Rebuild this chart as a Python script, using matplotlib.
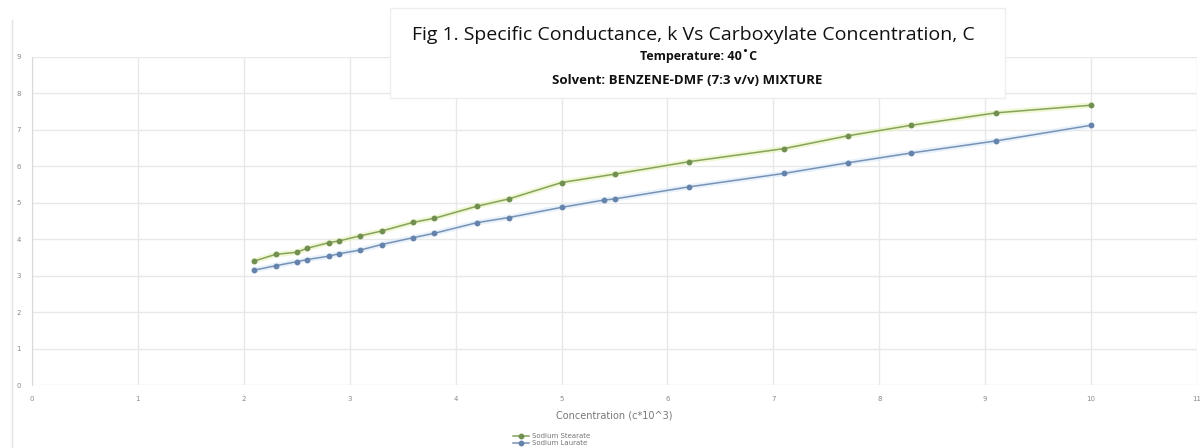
import matplotlib
matplotlib.use("Agg")
import matplotlib.pyplot as plt
from matplotlib.patches import Rectangle

# Data
conc_green = [2.1, 2.3, 2.5, 2.6, 2.8, 2.9, 3.1, 3.3, 3.6, 3.8, 4.2, 4.5, 5.0, 5.5, 6.2, 7.1, 7.7, 8.3, 9.1, 10.0]
k_green = [3.40, 3.58, 3.64, 3.75, 3.90, 3.95, 4.09, 4.22, 4.46, 4.57, 4.90, 5.10, 5.55, 5.78, 6.12, 6.48, 6.83, 7.12, 7.46, 7.67]
conc_blue = [2.1, 2.3, 2.5, 2.6, 2.8, 2.9, 3.1, 3.3, 3.6, 3.8, 4.2, 4.5, 5.0, 5.4, 5.5, 6.2, 7.1, 7.7, 8.3, 9.1, 10.0]
k_blue = [3.15, 3.27, 3.38, 3.44, 3.53, 3.60, 3.70, 3.85, 4.04, 4.16, 4.45, 4.59, 4.87, 5.07, 5.10, 5.43, 5.80, 6.09, 6.36, 6.69, 7.12]
x_ticks = list(range(0, 12))
y_ticks = list(range(0, 10))
series_names = ["Sodium Stearate", "Sodium Laurate"]

fig = plt.figure(figsize=(12, 4.48), dpi=100)
ax = fig.add_axes([32/1200, 1-385/448, (1197-32)/1200, (385-56.7)/448])

ax.set_xlim(0, 11)
ax.set_ylim(0, 9)
ax.set_xticks(x_ticks)
ax.set_yticks(y_ticks)
ax.grid(True, color="#e8e8e8", linewidth=1.0)
ax.set_axisbelow(True)
for s in ["top", "right", "bottom"]:
    ax.spines[s].set_visible(False)
ax.spines["left"].set_color("#d9d9d9")
ax.tick_params(length=0, labelsize=5, colors="#8a8a8a", pad=8)

# glow
ax.plot(conc_green, k_green, color="#e6f2b8", linewidth=4, alpha=0.6, zorder=2)
ax.plot(conc_blue, k_blue, color="#d9eaf8", linewidth=4, alpha=0.6, zorder=2)
ax.plot(conc_green, k_green, color="#86a35c", linewidth=1.1, marker="o",
        markersize=3.2, markerfacecolor="#728f52", markeredgecolor="#728f52",
        label=series_names[0], zorder=3)
ax.plot(conc_blue, k_blue, color="#7892b6", linewidth=1.1, marker="o",
        markersize=3.2, markerfacecolor="#6683ac", markeredgecolor="#6683ac",
        label=series_names[1], zorder=3)

ax.set_xlabel("Concentration (c*10^3)", fontsize=7, color="#777777", labelpad=6)

leg = fig.legend(loc="upper left", bbox_to_anchor=(510/1200, 1-430/448), frameon=False,
                 fontsize=5, labelcolor="#777777", handlelength=2.2, borderpad=0,
                 labelspacing=0.1, handletextpad=0.4)

# outer chart border line
fig.add_artist(plt.Line2D([12/1200, 12/1200], [0, 1-20/448], color="#e3e3e3", linewidth=1,
                          transform=fig.transFigure))

# title box
box = Rectangle((390/1200, 1-98/448), (1005-390)/1200, (98-8)/448, transform=fig.transFigure,
                facecolor="white", edgecolor="#eeeeee", linewidth=1, zorder=5)
fig.add_artist(box)
fig.text(693/1200, 1-35/448, "Fig 1. Specific Conductance, k Vs Carboxylate Concentration, C",
         ha="center", va="center", fontsize=14, family="Open Sans", color="#111111", zorder=6)
fig.text(699/1200, 1-56/448, "Temperature: 40\u02daC", ha="center", va="center",
         fontsize=9, fontweight="bold", family="Open Sans", color="#111111", zorder=6)
fig.text(687/1200, 1-80/448, "Solvent: BENZENE-DMF (7:3 v/v) MIXTURE", ha="center", va="center",
         fontsize=9.5, fontweight="bold", family="Open Sans", color="#111111", zorder=6)

fig.savefig("out.png", dpi=100)
